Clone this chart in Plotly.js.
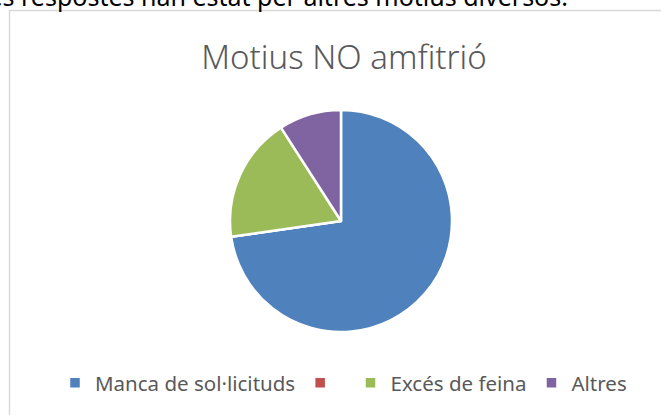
<!DOCTYPE html>
<html>
<head>
<meta charset="utf-8">
<script src="https://cdn.plot.ly/plotly-3.0.1.min.js"></script>
<style>html,body{margin:0;padding:0;background:#fff;overflow:hidden}#chart{width:661px;height:415px}</style>
</head>
<body>
<div id="chart"></div>
<script>
const categories = ["Manca de sol·licituds", "\u00a0", "Excés de feina", "Altres"];
const values = [8, 0, 2, 1];
const colors = ["#4f81bd", "#c0504d", "#9bbb59", "#8064a2"];
const chartTitle = "Motius NO amfitrió";
const contextText = "les respostes han estat per altres motius diversos.";

const W = 661, H = 415;
const cx = 341, cy = 221, r = 111;

const trace = {
  type: "pie",
  labels: categories,
  values: values,
  sort: false,
  direction: "clockwise",
  rotation: 0,
  textinfo: "none",
  hoverinfo: "label+value+percent",
  marker: {colors: colors, line: {color: "#ffffff", width: 2.5}},
  domain: {x: [(cx - r) / W, (cx + r) / W], y: [(H - cy - r) / H, (H - cy + r) / H]},
  showlegend: true
};

const layout = {
  width: W, height: H,
  margin: {l: 0, r: 0, t: 0, b: 0},
  paper_bgcolor: "#ffffff",
  font: {family: "'Noto Sans', 'Open Sans', sans-serif", color: "#595959"},
  title: {
    text: chartTitle,
    font: {family: "'Noto Sans', 'Open Sans', sans-serif", size: 33, color: "#595959", weight: 300},
    x: 344 / W, xanchor: "center",
    y: 1 - 57 / H, yanchor: "middle"
  },
  showlegend: true,
  legend: {
    orientation: "h",
    x: 55 / W, xanchor: "left",
    y: 1 - 383 / H, yanchor: "middle",
    font: {size: 20.5, color: "#595959"},
    bgcolor: "rgba(0,0,0,0)",
    traceorder: "normal"
  },
  shapes: [{
    type: "rect", xref: "paper", yref: "paper",
    x0: 9.5 / W, x1: 1.2, y0: -0.2, y1: 1 - 10.5 / H,
    line: {color: "#d9d9d9", width: 1.5}, fillcolor: "rgba(0,0,0,0)", layer: "below"
  }],
  annotations: [{
    text: contextText, xref: "paper", yref: "paper",
    x: 570 / W, xanchor: "right", y: 1 - 15 / H, yanchor: "bottom",
    showarrow: false, font: {size: 25, color: "#000000"}
  }]
};

Plotly.newPlot("chart", [trace], layout, {displayModeBar: false, staticPlot: true});
</script>
</body>
</html>
